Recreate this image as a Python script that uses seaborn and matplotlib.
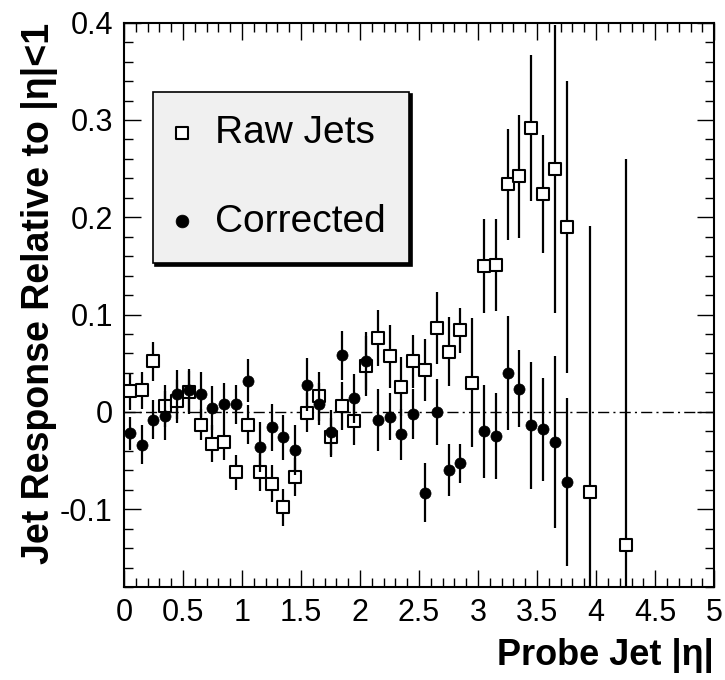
import numpy as np
import pandas as pd
import matplotlib
matplotlib.use("Agg")
import matplotlib.pyplot as plt
from matplotlib.ticker import MultipleLocator, FuncFormatter
import seaborn as sns

# ---- data ----
raw_eta = [0.05, 0.15, 0.25, 0.35, 0.45, 0.55, 0.65, 0.75, 0.85, 0.95,
           1.05, 1.15, 1.25, 1.35, 1.45, 1.55, 1.65, 1.75, 1.85, 1.95,
           2.05, 2.15, 2.25, 2.35, 2.45, 2.55, 2.65, 2.75, 2.85, 2.95,
           3.05, 3.15, 3.25, 3.35, 3.45, 3.55, 3.65, 3.75, 3.95, 4.25]
raw_val = [0.021, 0.022, 0.052, 0.006, 0.011, 0.020, -0.013, -0.033, -0.031, -0.062,
           -0.013, -0.062, -0.074, -0.098, -0.067, -0.001, 0.016, -0.026, 0.006, -0.009,
           0.047, 0.076, 0.057, 0.026, 0.052, 0.043, 0.086, 0.062, 0.084, 0.030,
           0.150, 0.151, 0.234, 0.242, 0.292, 0.224, 0.250, 0.190, -0.082, -0.137]
raw_err = [0.019, 0.019, 0.020, 0.022, 0.022, 0.022, 0.016, 0.019, 0.018, 0.018,
           0.020, 0.019, 0.019, 0.019, 0.020, 0.020, 0.025, 0.020, 0.025, 0.025,
           0.031, 0.029, 0.032, 0.030, 0.027, 0.032, 0.037, 0.035, 0.023, 0.066,
           0.048, 0.047, 0.057, 0.063, 0.075, 0.061, 0.148, 0.150, 0.273, 0.397]

cor_eta = [0.05, 0.15, 0.25, 0.35, 0.45, 0.55, 0.65, 0.75, 0.85, 0.95,
           1.05, 1.15, 1.25, 1.35, 1.45, 1.55, 1.65, 1.75, 1.85, 1.95,
           2.05, 2.15, 2.25, 2.35, 2.45, 2.55, 2.65, 2.75, 2.85,
           3.05, 3.15, 3.25, 3.35, 3.45, 3.55, 3.65, 3.75]
cor_val = [-0.022, -0.034, -0.008, -0.004, 0.018, 0.022, 0.018, 0.004, 0.008, 0.008,
           0.032, -0.036, -0.016, -0.026, -0.039, 0.028, 0.008, -0.021, 0.058, 0.014,
           0.052, -0.008, -0.005, -0.023, -0.002, -0.083, 0.000, -0.060, -0.053,
           -0.020, -0.025, 0.040, 0.024, -0.014, -0.018, -0.031, -0.072]
cor_err = [0.017, 0.020, 0.020, 0.025, 0.025, 0.022, 0.023, 0.023, 0.022, 0.020,
           0.022, 0.026, 0.024, 0.023, 0.026, 0.027, 0.022, 0.023, 0.025, 0.025,
           0.030, 0.032, 0.024, 0.026, 0.026, 0.030, 0.034, 0.027, 0.020,
           0.048, 0.044, 0.059, 0.040, 0.065, 0.053, 0.088, 0.086]

series_labels = ["Raw Jets", "Corrected"]
x_title = "Probe Jet |η|"
y_title = "Jet Response Relative to |η|<1"

raw_df = pd.DataFrame({"eta": raw_eta, "resp": raw_val, "err": raw_err})
cor_df = pd.DataFrame({"eta": cor_eta, "resp": cor_val, "err": cor_err})

# ---- style ----
sns.set_theme(style="ticks")
plt.rcParams["font.family"] = ["Liberation Sans", "DejaVu Sans"]
plt.rcParams["text.color"] = "black"
plt.rcParams["axes.labelcolor"] = "black"
plt.rcParams["xtick.color"] = "black"
plt.rcParams["ytick.color"] = "black"

fig = plt.figure(figsize=(7.25, 6.8), dpi=100)
ax = fig.add_axes([0.171, 0.1368, 0.814, 0.8298])

ax.set_xlim(0, 5)
ax.set_ylim(-0.18, 0.4)

ax.axhline(0, color="black", lw=1.0, ls=(0, (8, 3, 1.5, 3)), zorder=1)

ax.errorbar(raw_df["eta"], raw_df["resp"], yerr=raw_df["err"], fmt="none",
            ecolor="black", elinewidth=1.6, capsize=0, zorder=2)
sns.scatterplot(data=raw_df, x="eta", y="resp", marker="s", s=64,
                facecolor="white", edgecolor="black", linewidth=1.5,
                ax=ax, zorder=3, label=series_labels[0])
ax.errorbar(cor_df["eta"], cor_df["resp"], yerr=cor_df["err"], fmt="none",
            ecolor="black", elinewidth=1.6, capsize=0, zorder=4)
sns.scatterplot(data=cor_df, x="eta", y="resp", marker="o", s=64,
                color="black", edgecolor="black", linewidth=0.5,
                ax=ax, zorder=5, label=series_labels[1])

# ticks
ax.xaxis.set_major_locator(MultipleLocator(0.5))
ax.xaxis.set_minor_locator(MultipleLocator(0.1))
ax.yaxis.set_major_locator(MultipleLocator(0.1))
ax.yaxis.set_minor_locator(MultipleLocator(0.02))
fmt = FuncFormatter(lambda v, p: ("%g" % round(v, 3)) if abs(v) > 1e-9 else "0")
ax.xaxis.set_major_formatter(fmt)
ax.yaxis.set_major_formatter(fmt)
ax.tick_params(which="both", direction="in", top=True, right=True, colors="black",
               labelcolor="black", labelsize=22, width=1.0)
ax.tick_params(which="major", length=12, pad=8)
ax.tick_params(which="minor", length=6.5)
for sp in ax.spines.values():
    sp.set_linewidth(1.5)
    sp.set_color("black")

ax.set_xlabel(x_title, fontsize=26, fontweight="bold", loc="right", color="black")
ax.set_ylabel(y_title, fontsize=27, fontweight="bold", loc="top", color="black")
ax.xaxis.set_label_coords(1.0, -0.09)
ax.yaxis.set_label_coords(-0.112, 1.0)

leg = ax.legend(loc="upper left", bbox_to_anchor=(0.0486, 0.8777), borderaxespad=0,
                fontsize=28, frameon=True, fancybox=False,
                shadow={"color": "black", "alpha": 1.0},
                handlelength=0.3, handletextpad=0.7, borderpad=0.6,
                labelspacing=1.35, markerscale=1.15)
leg.get_frame().set_facecolor("#f0f0f0")
leg.get_frame().set_edgecolor("black")
leg.get_frame().set_linewidth(1.2)
leg.get_frame().set_alpha(1.0)
for t in leg.get_texts():
    t.set_color("black")

fig.savefig("out.png", dpi=100)
